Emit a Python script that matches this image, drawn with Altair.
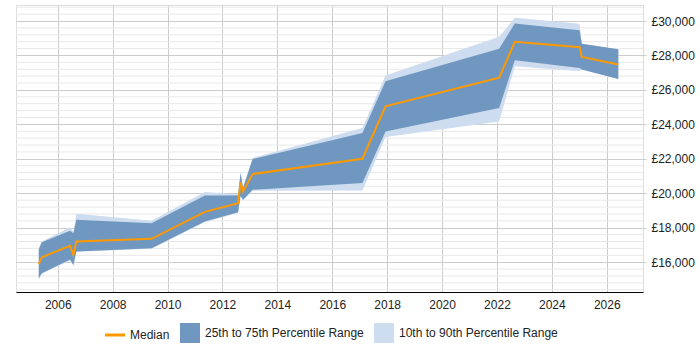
import altair as alt
import pandas as pd

years = [2005.31, 2005.42, 2006.45, 2006.57, 2006.68, 2009.42, 2011.36, 2012.57, 2012.66,
         2012.75, 2013.10, 2017.10, 2017.94, 2022.08, 2022.65, 2025.01, 2025.09, 2026.42]
p10 = [15000, 15330, 16100, 15800, 16600, 16780, 18330, 18850, 19800,
       19580, 20150, 20163, 23267, 24174, 27372, 27081, 27180, 26640]
p25 = [15070, 15360, 16150, 15843, 16616, 16814, 18360, 18900, 19850,
       19622, 20203, 20593, 23593, 24953, 27721, 27279, 27180, 26640]
median = [15884, 16290, 16948, 16424, 17198, 17355, 18924, 19430, 20628,
          20105, 21116, 22006, 25047, 26715, 28791, 28477, 27919, 27471]
p75 = [16756, 17163, 17820, 17686, 18459, 18267, 19872, 19872, 21174,
       20302, 21988, 23494, 26500, 28384, 29855, 29465, 28674, 28355]
p90 = [16800, 17200, 18035, 17750, 18808, 18401, 20070, 19950, 21250,
       20350, 22050, 23791, 26831, 29081, 30186, 29837, 28674, 28355]

series = ["Median", "25th to 75th Percentile Range", "10th to 90th Percentile Range"]
series_colors = ["#ff9900", "#7097c0", "#cddcee"]
series_shapes = ["M-1,-0.15H1V0.15H-1Z", "M-1,-1H1V1H-1Z", "M-1,-1H1V1H-1Z"]

x_ticks = list(range(2006, 2027, 2))
y_ticks = list(range(16000, 30001, 2000))
minor_grid = [v for v in range(14400, 30801, 400) if v % 2000 != 0]

df = pd.DataFrame({"year": years, "p10": p10, "p25": p25, "median": median, "p75": p75, "p90": p90})
grid_df = pd.DataFrame({"v": minor_grid})
legend_df = pd.DataFrame({"series": series})

x_scale = alt.Scale(domain=[2004.48, 2027.32], nice=False, zero=False)
y_scale = alt.Scale(domain=[14270, 30930], nice=False, zero=False)

x_axis = alt.Axis(values=x_ticks, format="d", grid=True, gridColor="#cccccc", ticks=False,
                  domainColor="#000000", labelPadding=7, labelFontSize=12, labelColor="#222222",
                  title=None, labelFont="Liberation Sans")
y_axis = alt.Axis(orient="right", values=y_ticks, grid=True, gridColor="#cccccc", domain=False,
                  tickSize=3, tickColor="#cccccc", labelPadding=5, labelFontSize=12,
                  labelColor="#222222", title=None, labelFont="Liberation Sans",
                  labelExpr="'£' + format(datum.value, ',')")

minor = alt.Chart(grid_df).mark_rule(color="#e8e8e8", strokeWidth=1).encode(
    y=alt.Y("v:Q", scale=y_scale, axis=y_axis)
)

light = alt.Chart(df).mark_area(color="#cddcee", opacity=1).encode(
    x=alt.X("year:Q", scale=x_scale, axis=x_axis),
    y=alt.Y("p10:Q", scale=y_scale, axis=y_axis),
    y2="p90:Q",
)
dark = alt.Chart(df).mark_area(color="#7097c0", opacity=1).encode(
    x=alt.X("year:Q", scale=x_scale),
    y=alt.Y("p25:Q", scale=y_scale),
    y2="p75:Q",
)
line = alt.Chart(df).mark_line(color="#ff9900", strokeWidth=2).encode(
    x=alt.X("year:Q", scale=x_scale),
    y=alt.Y("median:Q", scale=y_scale),
)
legend_layer = alt.Chart(legend_df).mark_point(filled=True, strokeWidth=0, opacity=1).encode(
    color=alt.Color("series:N", scale=alt.Scale(domain=series, range=series_colors),
                    legend=alt.Legend(title=None, orient="none", direction="horizontal",
                                      legendX=89, legendY=318,
                                      symbolSize=400, symbolStrokeWidth=0, labelFontSize=12,
                                      labelColor="#222222", labelFont="Liberation Sans",
                                      columnPadding=10, labelOffset=5,
                                      symbolOpacity=1)),
    shape=alt.Shape("series:N", scale=alt.Scale(domain=series, range=series_shapes)),
).transform_filter("false")

chart = alt.layer(minor, light, dark, line, legend_layer).properties(
    width=627, height=287,
    padding={"left": 15, "top": 5, "right": 0, "bottom": 0},
).configure_view(strokeWidth=0).configure(background="#ffffff")

chart.save("out.html", embed_options={"renderer": "svg", "actions": False})
